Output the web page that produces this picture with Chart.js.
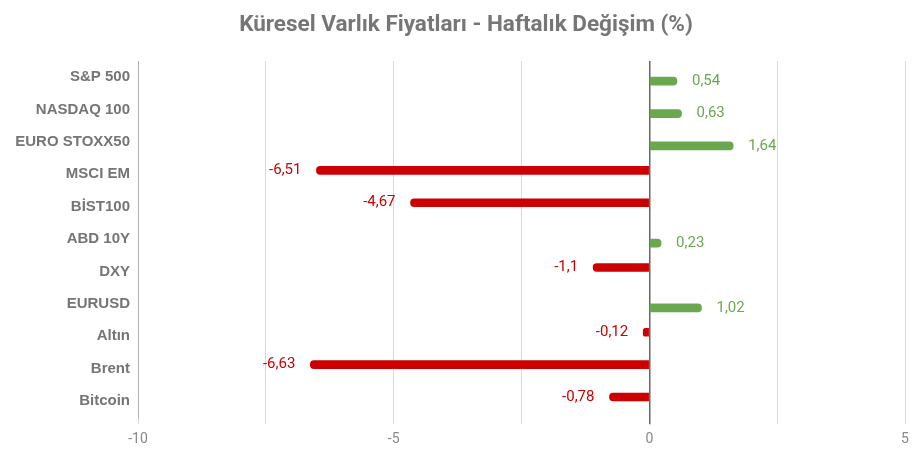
<!DOCTYPE html>
<html lang="tr">
<head>
<meta charset="utf-8">
<title>Küresel Varlık Fiyatları</title>
<script src="https://cdn.jsdelivr.net/npm/chart.js@4.4.1/dist/chart.umd.min.js"></script>
<style>
  html, body { margin: 0; padding: 0; background: #fff; }
  .wrap { width: 922px; height: 463px; position: relative; }
</style>
</head>
<body>
<div class="wrap"><canvas id="assetChart"></canvas></div>
<script>
// === DATA ===
const assets = ['S&P 500', 'NASDAQ 100', 'EURO STOXX50', 'MSCI EM', 'BİST100', 'ABD 10Y', 'DXY', 'EURUSD', 'Altın', 'Brent', 'Bitcoin'];
const changes = [0.54, 0.63, 1.64, -6.51, -4.67, 0.23, -1.1, 1.02, -0.12, -6.63, -0.78];
const xTicks = [-10, -5, 0, 5];
const chartTitle = 'Küresel Varlık Fiyatları - Haftalık Değişim (%)';

const GREEN = '#6aa84f';
const RED = '#cc0000';

// negatif ve pozitif değerler ayrı seriler (Excel'deki gibi iki seri)
const losses = changes.map(v => (v < 0 ? v : null));
const gains = changes.map(v => (v >= 0 ? v : null));

const fmt = v => String(v).replace('.', ',');

// basit değer etiketi eklentisi (datalabels yok)
const valueLabels = {
  id: 'valueLabels',
  afterDatasetsDraw(chart) {
    const ctx = chart.ctx;
    ctx.save();
    ctx.font = '15px Roboto';
    ctx.textBaseline = 'middle';
    chart.data.datasets.forEach((ds, di) => {
      const meta = chart.getDatasetMeta(di);
      meta.data.forEach((bar, i) => {
        const v = ds.data[i];
        if (v === null || v === undefined) return;
        ctx.fillStyle = v < 0 ? RED : GREEN;
        ctx.textAlign = v < 0 ? 'right' : 'left';
        ctx.fillText(fmt(v), bar.x + (v < 0 ? -15 : 15), bar.y);
      });
    });
    ctx.restore();
  }
};

// başlık tüm tuvale göre ortalı (Chart.js başlığı padding'e bağlı kalıyor)
const centeredTitle = {
  id: 'centeredTitle',
  afterDraw(chart) {
    const ctx = chart.ctx;
    ctx.save();
    ctx.font = 'bold 22.5px Roboto';
    ctx.fillStyle = '#767676';
    ctx.textAlign = 'center';
    ctx.textBaseline = 'middle';
    ctx.fillText(chartTitle, chart.width / 2 + 5, 25.5);
    ctx.restore();
  }
};

const ctx = document.getElementById('assetChart').getContext('2d');

new Chart(ctx, {
  type: 'bar',
  data: {
    labels: assets,
    datasets: [
      {
        label: 'Düşüş',
        data: losses,
        backgroundColor: RED,
        borderRadius: 4,
        barThickness: 8
      },
      {
        label: 'Yükseliş',
        data: gains,
        backgroundColor: GREEN,
        borderRadius: 4,
        barThickness: 8
      }
    ]
  },
  options: {
    indexAxis: 'y',
    responsive: true,
    maintainAspectRatio: false,
    animation: false,
    layout: { padding: { top: 61, bottom: 8, left: 0, right: 17 } },
    plugins: {
      legend: { display: false },
      tooltip: { enabled: false },
      title: { display: false }
    },
    scales: {
      x: {
        min: -10,
        max: 5,
        afterBuildTicks: scale => {
          scale.ticks = [-10, -7.5, -5, -2.5, 0, 2.5, 5].map(v => ({ value: v }));
        },
        grid: {
          drawTicks: true,
          tickLength: 7,
          color: c => (c.tick && c.tick.value === 0 ? '#666666' : '#d9d9d9'),
          lineWidth: c => (c.tick && c.tick.value === 0 ? 1.5 : 1)
        },
        border: { display: false },
        ticks: {
          padding: 7,
          color: '#888888',
          font: { family: 'Roboto', size: 14 },
          callback: v => (xTicks.includes(v) ? String(v) : '')
        }
      },
      y: {
        grid: { display: false, drawTicks: false },
        border: { display: true, color: '#b0b0b0' },
        afterFit: scale => { scale.width = 138; },
        ticks: {
          padding: 8,
          color: '#757575',
          font: { family: '"Liberation Sans", Arial, sans-serif', size: 15, weight: 'bold' }
        }
      }
    }
  },
  plugins: [valueLabels, centeredTitle]
});
</script>
</body>
</html>
